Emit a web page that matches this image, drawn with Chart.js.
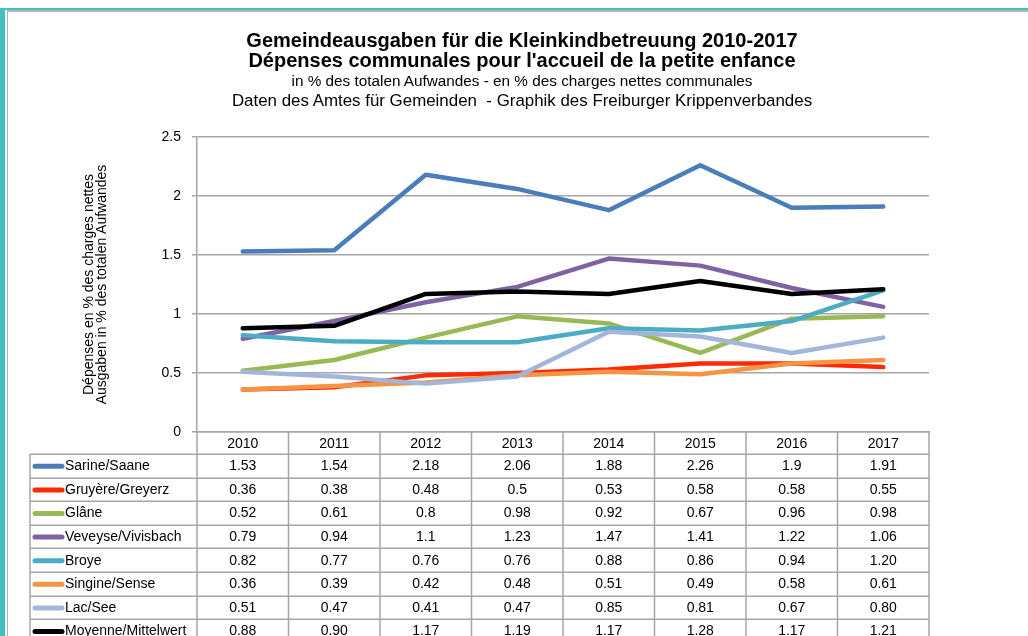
<!DOCTYPE html>
<html>
<head>
<meta charset="utf-8">
<script src="https://cdn.jsdelivr.net/npm/chart.js@4/dist/chart.umd.min.js"></script>
<style>
html,body{margin:0;padding:0;width:1028px;height:636px;overflow:hidden;background:#fff;font-family:"Liberation Sans",Arial,sans-serif;}
#wrap{position:absolute;left:0;top:0;width:1028px;height:636px;}
#chart{position:absolute;left:0;top:0;}
.fr{position:absolute;}
#frameL{left:0;top:8px;width:5px;height:628px;background:#41c1c1;}
#frameT{left:5px;top:8px;width:1023px;height:2px;background:#41c1c1;}
#frameG{left:7px;top:10px;width:1021px;height:2px;background:#b5b5b5;}
#frameGL{left:7px;top:10px;width:1px;height:626px;background:#b5b5b5;}
.t{position:absolute;left:16px;width:1012px;text-align:center;color:#000;white-space:pre;}
.t1{font-weight:bold;font-size:20px;line-height:20px;}
.t2{font-size:15.3px;line-height:20px;}
.t3{font-size:16.9px;line-height:20px;}
</style>
</head>
<body>
<div id="wrap">
  <div class="fr" id="frameL"></div>
  <div class="fr" id="frameT"></div>
  <div class="fr" id="frameG"></div>
  <div class="fr" id="frameGL"></div>
  <canvas id="chart" width="1028" height="636"></canvas>
  <div class="t t1" style="top:30px">Gemeindeausgaben für die Kleinkindbetreuung 2010-2017</div>
  <div class="t t1" style="top:50px">Dépenses communales pour l'accueil de la petite enfance</div>
  <div class="t t2" style="top:71px">in % des totalen Aufwandes - en % des charges nettes communales</div>
  <div class="t t3" style="top:91px">Daten des Amtes für Gemeinden  - Graphik des Freiburger Krippenverbandes</div>
</div>
<script>
// ---- data ----
const years = ['2010','2011','2012','2013','2014','2015','2016','2017'];
const seriesNames = ['Sarine/Saane','Gruyère/Greyerz','Glâne','Veveyse/Vivisbach','Broye','Singine/Sense','Lac/See','Moyenne/Mittelwert'];
const sarine   = [1.53, 1.54, 2.18, 2.06, 1.88, 2.26, 1.9, 1.91];
const gruyere  = [0.36, 0.38, 0.48, 0.5, 0.53, 0.58, 0.58, 0.55];
const glane    = [0.52, 0.61, 0.8, 0.98, 0.92, 0.67, 0.96, 0.98];
const veveyse  = [0.79, 0.94, 1.1, 1.23, 1.47, 1.41, 1.22, 1.06];
const broye    = [0.82, 0.77, 0.76, 0.76, 0.88, 0.86, 0.94, 1.20];
const singine  = [0.36, 0.39, 0.42, 0.48, 0.51, 0.49, 0.58, 0.61];
const lac      = [0.51, 0.47, 0.41, 0.47, 0.85, 0.81, 0.67, 0.80];
const moyenne  = [0.88, 0.90, 1.17, 1.19, 1.17, 1.28, 1.17, 1.21];
const seriesValues = [sarine, gruyere, glane, veveyse, broye, singine, lac, moyenne];
// number format used in the data table: 'g' = general, 'f2' = two decimals
const seriesFormats = ['g','g','g','g','f2','g','f2','f2'];
const seriesColors = ['#4a7ebb','#fe2a06','#98b954','#7f63a1','#4aacc5','#f59443','#a3b6d9','#000000'];
const yTicksMin = 0, yTicksMax = 2.5, yTicksStep = 0.5;
const yTitle = ['Dépenses en % des charges nettes','Ausgaben in % des totalen Aufwandes'];

const FONT = '"Liberation Sans", Arial, sans-serif';
const GRID = '#a6a6a6';

function fmt(v, f){ return f === 'f2' ? v.toFixed(2) : String(v); }

const tablePlugin = {
  id: 'dataTable',
  afterDraw(chart){
    const ctx = chart.ctx;
    const xs = chart.scales.x;
    const area = chart.chartArea;
    const n = years.length;
    const half = (xs.getPixelForValue(1) - xs.getPixelForValue(0)) / 2;
    const bounds = [];
    for (let i = 0; i < n; i++) bounds.push(xs.getPixelForValue(i) - half);
    bounds.push(xs.getPixelForValue(n - 1) + half);
    const headerBottom = xs.bottom;
    const rowH = 23.6;
    const legendLeft = 30;
    const bottomY = headerBottom + rowH * seriesNames.length;
    ctx.save();
    ctx.strokeStyle = GRID;
    ctx.lineWidth = 1.5;
    for (let r = 0; r <= seriesNames.length; r++) {
      const y = Math.round(headerBottom + r * rowH) + 0.25;
      ctx.beginPath(); ctx.moveTo(legendLeft, y); ctx.lineTo(bounds[n], y); ctx.stroke();
    }
    bounds.forEach(bx => {
      ctx.beginPath(); ctx.moveTo(bx, area.bottom); ctx.lineTo(bx, bottomY); ctx.stroke();
    });
    ctx.beginPath(); ctx.moveTo(legendLeft, headerBottom); ctx.lineTo(legendLeft, bottomY); ctx.stroke();
    ctx.font = '14px ' + FONT;
    ctx.fillStyle = '#000';
    ctx.textBaseline = 'middle';
    for (let r = 0; r < seriesNames.length; r++) {
      const yc = headerBottom + r * rowH + rowH / 2 + 0.5;
      ctx.save();
      ctx.strokeStyle = seriesColors[r];
      ctx.lineWidth = 5;
      ctx.lineCap = 'round';
      ctx.beginPath(); ctx.moveTo(35, yc); ctx.lineTo(62, yc); ctx.stroke();
      ctx.restore();
      ctx.textAlign = 'left';
      ctx.fillText(seriesNames[r], 65, yc);
      ctx.textAlign = 'center';
      for (let i = 0; i < n; i++) {
        ctx.fillText(fmt(seriesValues[r][i], seriesFormats[r]), xs.getPixelForValue(i), yc);
      }
    }
    ctx.restore();
  }
};

const datasets = seriesNames.map((name, i) => ({
  label: name,
  data: seriesValues[i],
  borderColor: seriesColors[i],
  backgroundColor: seriesColors[i],
  borderWidth: 4.5,
  pointRadius: 0,
  tension: 0,
  fill: false,
  borderJoinStyle: 'round',
  borderCapStyle: 'round',
  order: seriesNames.length - i
}));

new Chart(document.getElementById('chart'), {
  type: 'line',
  data: { labels: years, datasets },
  options: {
    responsive: false,
    animation: false,
    devicePixelRatio: 1,
    layout: { padding: { left: 60, right: 99, top: 137, bottom: 182 } },
    plugins: { legend: { display: false }, tooltip: { enabled: false }, title: { display: false } },
    scales: {
      x: {
        type: 'category',
        offset: true,
        grid: { display: false, drawTicks: false },
        border: { display: true, color: GRID, width: 1.5 },
        ticks: { color: '#000', font: { family: FONT, size: 14 }, padding: 4, maxRotation: 0, autoSkip: false },
        afterFit(s){ s.height = 22; }
      },
      y: {
        min: yTicksMin, max: yTicksMax,
        ticks: { stepSize: yTicksStep, color: '#000', font: { family: FONT, size: 14 }, padding: 11,
                 callback: v => String(Math.round(v * 100) / 100) },
        grid: { color: GRID, lineWidth: 1.5, tickLength: 5, drawTicks: true },
        border: { display: true, color: GRID, width: 1.5 },
        title: { display: true, text: yTitle, color: '#000', font: { family: FONT, size: 14, lineHeight: 0.95 }, padding: { top: 22, bottom: 0 } },
        afterFit(s){ s.width = 137; }
      }
    }
  },
  plugins: [tablePlugin]
});
</script>
</body>
</html>
